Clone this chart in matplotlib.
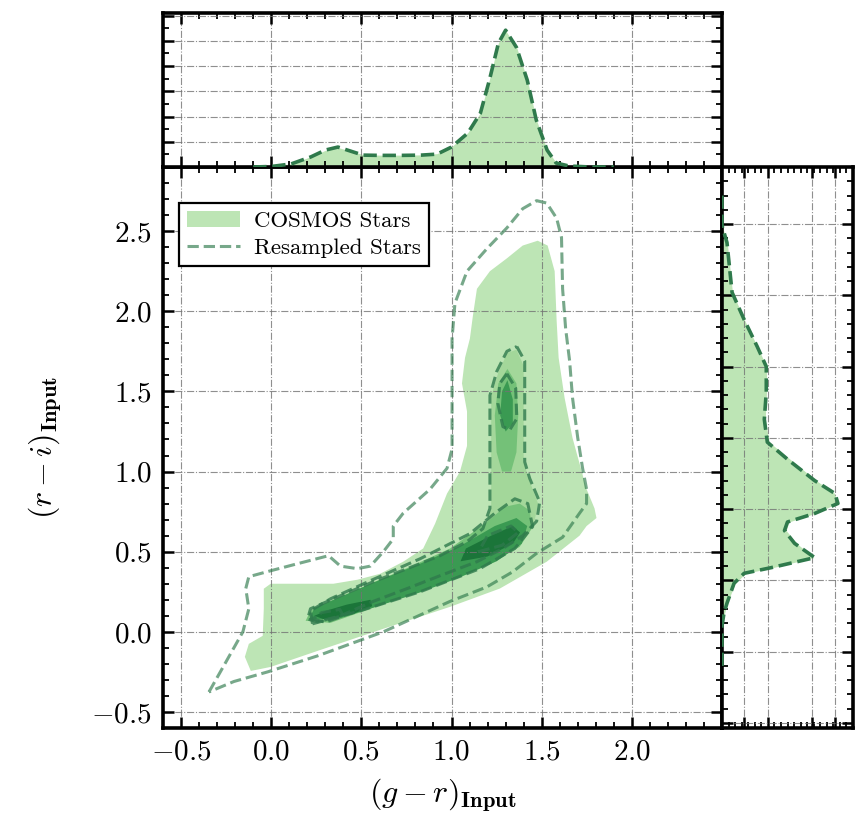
import numpy as np
import matplotlib.pyplot as plt
from matplotlib.ticker import MultipleLocator

plt.rcParams['font.family'] = 'cmr10'
plt.rcParams['mathtext.fontset'] = 'cm'
plt.rcParams['axes.formatter.use_mathtext'] = True

# ---------------- data ----------------
# COSMOS stars: filled density levels, (g-r, r-i) outlines
cosmos_l1_gr = [-0.113, -0.146, -0.124, -0.047, -0.041, -0.041, -0.003, 0.345, 0.478, 0.605, 0.732,
                0.843, 0.909, 0.975, 1.047, 1.086, 1.086, 1.058, 1.075, 1.102, 1.119, 1.141, 1.213,
                1.307, 1.395, 1.478, 1.533, 1.572, 1.583, 1.594, 1.627, 1.671, 1.71, 1.749, 1.793,
                1.804, 1.749, 1.71, 1.528, 1.268, 0.992, 0.622, 0.257, -0.003]
cosmos_l1_ri = [-0.244, -0.156, -0.075, -0.025, 0.144, 0.269, 0.30, 0.30, 0.325, 0.3625, 0.4375,
                0.52, 0.675, 0.8625, 1.0, 1.16, 1.375, 1.55, 1.71, 1.83, 1.975, 2.14, 2.25,
                2.33, 2.41, 2.44, 2.41, 2.25, 1.94, 1.71, 1.46, 1.21, 1.05, 0.89, 0.77,
                0.71, 0.66, 0.60, 0.4375, 0.27, 0.156, 0.019, -0.119, -0.219]

cosmos_l2_gr = [1.36, 1.40, 1.40, 1.43, 1.48, 1.46, 1.39, 1.28, 1.14, 0.94, 0.75, 0.57, 0.38, 0.26,
                0.20, 0.22, 0.38, 0.57, 0.75, 0.94, 1.09, 1.18, 1.22, 1.22, 1.22, 1.26, 1.31]
cosmos_l2_ri = [1.76, 1.66, 1.06, 0.95, 0.80, 0.69, 0.60, 0.52, 0.44, 0.35, 0.27, 0.19, 0.10, 0.065,
                0.08, 0.14, 0.22, 0.31, 0.39, 0.47, 0.56, 0.64, 0.77, 1.06, 1.47, 1.62, 1.74]

cosmos_l3_gr = [0.191, 0.329, 0.55, 0.771, 0.992, 1.213, 1.378, 1.445, 1.434, 1.378, 1.296, 1.185,
                0.992, 0.771, 0.55, 0.329, 0.218]
cosmos_l3_ri = [0.069, 0.056, 0.144, 0.231, 0.319, 0.425, 0.53, 0.644, 0.756, 0.80, 0.78, 0.675,
                0.52, 0.406, 0.30, 0.1875, 0.131]
cosmos_l3b_gr = [1.31, 1.36, 1.37, 1.36, 1.33, 1.28, 1.25, 1.24, 1.26]
cosmos_l3b_ri = [1.64, 1.55, 1.35, 1.12, 1.00, 1.00, 1.12, 1.35, 1.55]

cosmos_l4_gr = [0.21, 0.384, 0.605, 0.826, 1.047, 1.25, 1.39, 1.42, 1.36, 1.24, 1.047, 0.826,
                0.605, 0.384, 0.24]
cosmos_l4_ri = [0.075, 0.085, 0.165, 0.246, 0.34, 0.44, 0.55, 0.66, 0.71, 0.66, 0.535, 0.425,
                0.325, 0.218, 0.15]
cosmos_l4b_gr = [1.31, 1.34, 1.34, 1.30, 1.27, 1.28]
cosmos_l4b_ri = [1.57, 1.45, 1.30, 1.25, 1.35, 1.50]

cosmos_l5a_gr = [0.24, 0.30, 0.45, 0.56, 0.55, 0.42, 0.30]
cosmos_l5a_ri = [0.10, 0.075, 0.11, 0.16, 0.20, 0.17, 0.13]
cosmos_l5b_gr = [1.05, 1.20, 1.34, 1.38, 1.34, 1.22, 1.08]
cosmos_l5b_ri = [0.44, 0.47, 0.55, 0.62, 0.66, 0.60, 0.52]

# Resampled stars: dashed density contours
resamp_c1_gr = [-0.345, -0.262, -0.157, -0.124, -0.141, -0.124, -0.003, 0.146, 0.318, 0.384, 0.478,
                0.55, 0.622, 0.677, 0.677, 0.732, 0.881, 0.975, 1.003, 1.003, 1.003, 1.019, 1.086,
                1.196, 1.307, 1.395, 1.472, 1.528, 1.583, 1.61, 1.616, 1.633, 1.655, 1.671, 1.70,
                1.727, 1.749, 1.749, 1.71, 1.616, 1.472, 1.34, 1.196, 0.992, 0.622, 0.257, -0.02,
                -0.207]
resamp_c1_ri = [-0.375, -0.21, 0.0, 0.144, 0.27, 0.344, 0.381, 0.425, 0.475, 0.41, 0.394,
                0.41, 0.50, 0.58, 0.66, 0.74, 0.89, 1.02, 1.14, 1.46, 1.83, 2.05, 2.25,
                2.39, 2.52, 2.64, 2.69, 2.675, 2.58, 2.46, 2.14, 1.89, 1.69, 1.46, 1.21,
                1.02, 0.89, 0.80, 0.74, 0.59, 0.49, 0.375, 0.28, 0.19, 0.0, -0.15, -0.25,
                -0.31]

resamp_c2_gr = [1.362, 1.406, 1.406, 1.434, 1.489, 1.472, 1.395, 1.285, 1.141, 0.936, 0.754, 0.566,
                0.384, 0.257, 0.202, 0.218, 0.384, 0.566, 0.754, 0.936, 1.086, 1.174, 1.213, 1.213,
                1.213, 1.251, 1.307]
resamp_c2_ri = [1.78, 1.69, 1.06, 0.956, 0.81, 0.69, 0.60, 0.52, 0.4375, 0.35, 0.27, 0.19,
                0.10, 0.0625, 0.08, 0.144, 0.225, 0.3125, 0.394, 0.475, 0.5625, 0.644, 0.77, 1.06,
                1.475, 1.625, 1.75]

resamp_c3_gr = [0.229, 0.494, 0.826, 1.157, 1.351, 1.45, 1.423, 1.351, 1.24, 1.102, 0.826, 0.55,
                0.329, 0.218]
resamp_c3_ri = [0.05, 0.131, 0.25, 0.394, 0.52, 0.656, 0.80, 0.83, 0.74, 0.6125, 0.456, 0.319,
                0.206, 0.131]
resamp_c3b_gr = [1.307, 1.356, 1.362, 1.323, 1.285, 1.257, 1.268]
resamp_c3b_ri = [1.61, 1.52, 1.33, 1.26, 1.28, 1.425, 1.55]

resamp_c4a_gr = [0.23, 0.30, 0.40, 0.38, 0.28]
resamp_c4a_ri = [0.08, 0.06, 0.10, 0.14, 0.12]
resamp_c4b_gr = [1.15, 1.28, 1.37, 1.33, 1.20]
resamp_c4b_ri = [0.50, 0.54, 0.62, 0.66, 0.60]

# marginal densities
gr_grid = [-0.1, 0.0, 0.11, 0.22, 0.30, 0.37, 0.44, 0.51, 0.60, 0.72, 0.83, 0.92, 1.00, 1.09,
           1.16, 1.21, 1.26, 1.30, 1.36, 1.42, 1.47, 1.53, 1.58, 1.65, 1.77, 1.9]
gr_dens_cosmos = [0, 0.03, 0.13, 0.41, 0.66, 0.77, 0.64, 0.49, 0.47, 0.47, 0.48, 0.53, 0.80, 1.36,
                  2.15, 3.46, 4.92, 5.40, 4.76, 3.46, 1.88, 0.69, 0.17, 0.04, 0.0, 0]
gr_dens_resamp = [0, 0.02, 0.12, 0.40, 0.67, 0.79, 0.63, 0.47, 0.46, 0.46, 0.47, 0.51, 0.79, 1.34,
                  2.13, 3.44, 4.9, 5.42, 4.74, 3.44, 1.86, 0.67, 0.16, 0.04, 0.0, 0]

ri_grid = [-0.6, -0.32, -0.23, -0.16, -0.02, 0.05, 0.09, 0.16, 0.26, 0.35, 0.41, 0.47, 0.54, 0.61,
           0.70, 0.85, 0.97, 1.13, 1.32, 1.50, 1.64, 1.83, 2.02, 2.37, 2.49, 2.7]
ri_dens_cosmos = [0, 0, 0.02, 0.04, 0.10, 0.18, 0.39, 0.70, 0.57, 0.49, 0.51, 0.71, 0.88, 0.86,
                  0.72, 0.52, 0.36, 0.33, 0.34, 0.34, 0.27, 0.17, 0.08, 0.04, 0.0, 0]
ri_dens_resamp = [0, 0, 0.015, 0.038, 0.092, 0.169, 0.377, 0.708, 0.554, 0.477, 0.50, 0.708, 0.885,
                  0.862, 0.708, 0.50, 0.346, 0.323, 0.338, 0.338, 0.269, 0.169, 0.077, 0.038, 0.0, 0]

# ---------------- styles ----------------
fill_cols = ['#bde5b5', '#a3d79a', '#74c178', '#3a9a52', '#1b7539']
dash_col = '#2f7a4c'
grid_kw = dict(ls='-.', color='0.45', lw=0.8, alpha=0.8)

fig = plt.figure(figsize=(8.56, 8.22), dpi=100)
W, H = 856, 822
ax = fig.add_axes([163 / W, 1 - 728 / H, (722 - 163) / W, (728 - 167) / H])
ax_top = fig.add_axes([163 / W, 1 - 167 / H, (722 - 163) / W, (167 - 13) / H], sharex=ax)
ax_right = fig.add_axes([722 / W, 1 - 728 / H, (853 - 722) / W, (728 - 167) / H])


def closed(x, y):
    return list(x) + [x[0]], list(y) + [y[0]]


# main panel fills
ax.fill(cosmos_l1_gr, cosmos_l1_ri, color=fill_cols[0], lw=0, zorder=1, label='COSMOS Stars')
ax.fill(cosmos_l2_gr, cosmos_l2_ri, color=fill_cols[1], lw=0, zorder=1)
ax.fill(cosmos_l3_gr, cosmos_l3_ri, color=fill_cols[2], lw=0, zorder=1)
ax.fill(cosmos_l3b_gr, cosmos_l3b_ri, color=fill_cols[2], lw=0, zorder=1)
ax.fill(cosmos_l4_gr, cosmos_l4_ri, color=fill_cols[3], lw=0, zorder=1)
ax.fill(cosmos_l4b_gr, cosmos_l4b_ri, color=fill_cols[3], lw=0, zorder=1)
ax.fill(cosmos_l5a_gr, cosmos_l5a_ri, color=fill_cols[4], lw=0, zorder=1)
ax.fill(cosmos_l5b_gr, cosmos_l5b_ri, color=fill_cols[4], lw=0, zorder=1)

# main panel dashed contours
x, y = closed(resamp_c1_gr, resamp_c1_ri)
ax.plot(x, y, ls='--', color=dash_col, lw=2.2, alpha=0.65, zorder=3, label='Resampled Stars')
for gx, ry in [(resamp_c2_gr, resamp_c2_ri), (resamp_c3_gr, resamp_c3_ri),
               (resamp_c3b_gr, resamp_c3b_ri), (resamp_c4a_gr, resamp_c4a_ri),
               (resamp_c4b_gr, resamp_c4b_ri)]:
    x, y = closed(gx, ry)
    ax.plot(x, y, ls='--', color=dash_col, lw=2.2, alpha=0.8, zorder=3)

ax.set_xlim(-0.6, 2.5)
ax.set_ylim(-0.6, 2.9)
ax.xaxis.set_major_locator(MultipleLocator(0.5))
ax.yaxis.set_major_locator(MultipleLocator(0.5))
ax.xaxis.set_minor_locator(MultipleLocator(0.1))
ax.yaxis.set_minor_locator(MultipleLocator(0.1))
ax.set_xticks([-0.5, 0.0, 0.5, 1.0, 1.5, 2.0])
ax.set_axisbelow('line')
ax.grid(True, **grid_kw)
ax.set_xlabel(r'$(g-r)_{\mathbf{Input}}$', fontsize=23, labelpad=8)
ax.set_ylabel(r'$(r-i)_{\mathbf{Input}}$', fontsize=23, labelpad=20)

leg = ax.legend(loc='upper left', fontsize=16.5, frameon=True, fancybox=False, framealpha=1,
                edgecolor='black', handlelength=2.3, borderpad=0.35, labelspacing=0.3,
                handletextpad=0.6, borderaxespad=0, bbox_to_anchor=(0.029, 0.936))
leg.get_frame().set_linewidth(1.6)

# top marginal: g-r density
ax_top.fill_between(gr_grid, 0, gr_dens_cosmos, color=fill_cols[0], lw=0, zorder=1)
ax_top.plot(gr_grid, gr_dens_resamp, ls='--', color=dash_col, lw=2.6, zorder=3)
ax_top.set_ylim(0, 6.1)
ax_top.yaxis.set_major_locator(MultipleLocator(1))
ax_top.yaxis.set_minor_locator(MultipleLocator(0.5))
ax_top.set_axisbelow('line')
ax_top.grid(True, **grid_kw)
ax_top.tick_params(labelbottom=False, labelleft=False)

# right marginal: r-i density
ax_right.fill_betweenx(ri_grid, 0, ri_dens_cosmos, color=fill_cols[0], lw=0, zorder=1)
ax_right.plot(ri_dens_resamp, ri_grid, ls='--', color=dash_col, lw=2.6, zorder=3)
ax_right.set_xlim(0, 1.0)
ax_right.set_ylim(-1.035, 2.9)
ax_right.set_xticks([0.17, 0.35, 0.69, 0.86])
ax_right.xaxis.set_minor_locator(MultipleLocator(0.05))
ax_right.yaxis.set_major_locator(MultipleLocator(0.5))
ax_right.yaxis.set_minor_locator(MultipleLocator(0.1))
ax_right.set_axisbelow('line')
ax_right.grid(True, **grid_kw)
ax_right.tick_params(labelbottom=False, labelleft=False)

for a in (ax, ax_top, ax_right):
    a.tick_params(which='both', direction='in', top=True, right=True, bottom=True, left=True)
    a.tick_params(which='major', length=8, width=1.8)
    a.tick_params(which='minor', length=4, width=1.3)
    for s in a.spines.values():
        s.set_linewidth(2.6)
ax.tick_params(which='major', labelsize=21, pad=8)

fig.savefig('out.png', dpi=100)
